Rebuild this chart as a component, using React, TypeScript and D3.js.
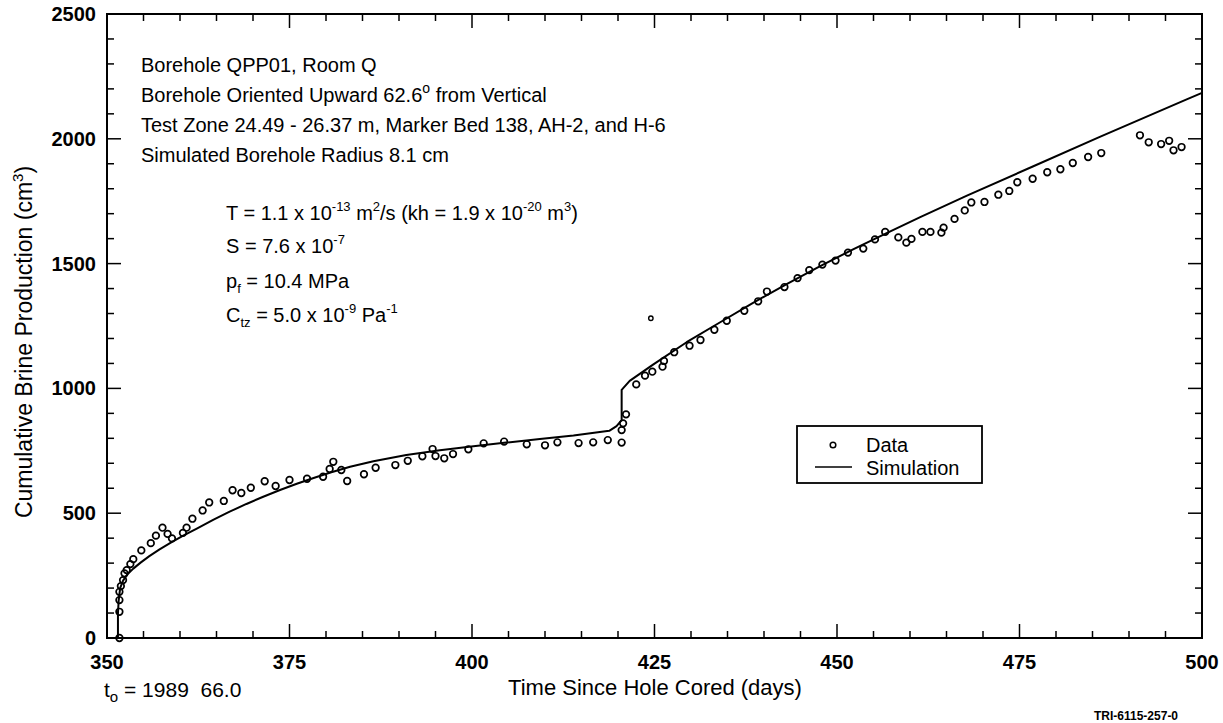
import React from 'react';
import * as d3 from 'd3';

// measured brine volumes (days since hole cored, cm^3)
const dataDays = [
  351.7, 351.7, 351.7, 351.7, 351.9, 352.2, 352.4, 352.7, 353.2, 353.6,
  354.7, 356.0, 356.7, 357.6, 358.3, 358.9, 360.4, 360.9, 361.7, 363.1,
  364.0, 366.0, 367.2, 368.4, 369.7, 371.6, 373.1, 375.0, 377.4, 379.6,
  380.5, 381.0, 382.1, 382.9, 385.2, 386.8, 389.5, 391.2, 393.2, 394.6,
  395.0, 396.2, 397.4, 399.5, 401.6, 404.4, 407.5, 410.0, 411.7, 414.6,
  416.6, 418.6, 420.5, 420.5, 420.7, 421.1, 422.5, 423.7, 424.7, 426.1,
  426.3, 427.7, 429.8, 431.3, 433.2, 434.9, 437.3, 439.2, 440.4, 442.8,
  444.6, 446.2, 448.0, 449.8, 451.5, 453.6, 455.2, 456.6, 458.4, 459.5,
  460.2, 461.7, 462.8, 464.3, 464.6, 466.1, 467.5, 468.4, 470.2, 472.1,
  473.6, 474.7, 476.8, 478.8, 480.6, 482.3, 484.4, 486.2, 491.5, 492.7,
  494.4, 495.5, 496.1, 497.2,
];
const dataVolume = [
  0, 105, 152, 185, 208, 232, 259, 272, 296, 316,
  351, 380, 410, 442, 417, 399, 421, 442, 478, 511,
  543, 549, 592, 581, 602, 628, 609, 633, 638, 646,
  677, 706, 673, 629, 656, 682, 693, 710, 728, 757,
  729, 720, 737, 756, 780, 787, 776, 772, 784, 781,
  784, 793, 783, 833, 860, 896, 1016, 1051, 1067, 1087,
  1110, 1145, 1171, 1194, 1235, 1271, 1311, 1349, 1388, 1406,
  1442, 1474, 1496, 1512, 1544, 1560, 1597, 1627, 1605, 1584,
  1599, 1627, 1627, 1624, 1644, 1679, 1713, 1745, 1747, 1776,
  1791, 1826, 1840, 1866, 1878, 1903, 1927, 1943, 2014, 1986,
  1979, 1992, 1954, 1967,
];

// odd reading drawn with a smaller marker
const flaggedDays = [424.5];
const flaggedVolume = [1281];

// simulated cumulative production
const simDays = [
  351.5, 351.5, 351.6, 351.8, 352.2, 352.8, 353.6, 354.6, 355.8, 357.2,
  358.8, 360.5, 362.3, 364.6, 366.8, 369.1, 371.4, 373.7, 376.0, 378.3,
  380.5, 383.3, 386.5, 391.0, 395.6, 400.2, 404.7, 409.3, 413.9, 418.8,
  419.8, 420.5, 420.5, 421.6, 424.8, 429.4, 434.0, 438.5, 443.1, 447.7,
  452.2, 456.8, 461.4, 467.8, 476.9, 486.0, 497.9, 500,
];
const simVolume = [
  0, 100, 150, 200, 230, 255, 278, 302, 328, 355,
  383, 411, 438, 474, 506, 537, 566, 593, 618, 641,
  662, 686, 708, 733, 752, 768, 783, 797, 811, 830,
  849, 873, 994, 1030, 1095, 1185, 1265, 1343, 1418, 1490,
  1557, 1622, 1686, 1772, 1890, 2008, 2158, 2184,
];

const xTicks = d3.range(350, 501, 5);
const yTicks = d3.range(0, 2501, 100);

const font = 'Liberation Sans, Arial, Helvetica, sans-serif';

export default function App() {
  const width = 1223;
  const height = 723;
  const left = 107, right = 1202, top = 14, bottom = 638;

  const x = d3.scaleLinear().domain([350, 500]).range([left, right]);
  const y = d3.scaleLinear().domain([0, 2500]).range([bottom, top]);

  const line = d3.line<number>()
    .x(i => x(simDays[i]))
    .y(i => y(simVolume[i]));
  const simPath = line(simDays.map((_, i) => i)) || '';

  const sup = (s: string, size = 13) => (
    <tspan dy={-9} fontSize={size}>{s}</tspan>
  );

  return (
    <svg width={width} height={height} style={{ position: 'absolute', left: 0, top: 0, background: '#fff' }}
      fontFamily={font}>
      <rect x={0} y={0} width={width} height={height} fill="#fff" />

      {/* ticks, pointing inward on all sides */}
      {xTicks.map(d => {
        const len = d % 25 === 0 ? 14 : 7;
        return (
          <g key={'xt' + d} stroke="#000" strokeWidth={1.5}>
            <line x1={x(d)} x2={x(d)} y1={bottom} y2={bottom - len} />
            <line x1={x(d)} x2={x(d)} y1={top} y2={top + len} />
          </g>
        );
      })}
      {yTicks.map(d => {
        const len = d % 500 === 0 ? 14 : 7;
        return (
          <g key={'yt' + d} stroke="#000" strokeWidth={1.5}>
            <line x1={left} x2={left + len} y1={y(d)} y2={y(d)} />
            <line x1={right} x2={right - len} y1={y(d)} y2={y(d)} />
          </g>
        );
      })}

      {/* tick labels */}
      {xTicks.filter(d => d % 25 === 0).map(d => (
        <text key={'xl' + d} x={x(d)} y={669} textAnchor="middle" fontSize={20} fontWeight="bold">{d}</text>
      ))}
      {yTicks.filter(d => d % 500 === 0).map(d => (
        <text key={'yl' + d} x={96} y={y(d) + 7} textAnchor="end" fontSize={20} fontWeight="bold">{d}</text>
      ))}

      {/* simulation */}
      <path d={simPath} fill="none" stroke="#000" strokeWidth={2} strokeLinejoin="round" />

      {/* data */}
      {dataDays.map((d, i) => (
        <circle key={'p' + i} cx={x(d)} cy={y(dataVolume[i])} r={3.3} fill="none" stroke="#000" strokeWidth={1.7} />
      ))}
      {flaggedDays.map((d, i) => (
        <circle key={'f' + i} cx={x(d)} cy={y(flaggedVolume[i])} r={2.2} fill="none" stroke="#000" strokeWidth={1.4} />
      ))}

      {/* frame */}
      <rect x={left} y={top} width={right - left} height={bottom - top} fill="none" stroke="#000" strokeWidth={2} />

      {/* annotation block */}
      <g fontSize={20} style={{ whiteSpace: 'pre' }}>
        <text x={141} y={72}>Borehole QPP01, Room Q</text>
        <text x={141} y={102}>
          <tspan>Borehole Oriented Upward 62.6</tspan>
          <tspan dy={-9} fontSize={14}>o</tspan>
          <tspan dy={9}> from Vertical</tspan>
        </text>
        <text x={141} y={132}>Test Zone 24.49 - 26.37 m, Marker Bed 138, AH-2, and H-6</text>
        <text x={141} y={162}>Simulated Borehole Radius 8.1 cm</text>

        <text x={226} y={220}>
          <tspan>T  = 1.1 x 10</tspan>
          {sup('-13')}
          <tspan dy={9}> m</tspan>
          {sup('2')}
          <tspan dy={9}>/s (kh = 1.9 x 10</tspan>
          {sup('-20')}
          <tspan dy={9}> m</tspan>
          {sup('3')}
          <tspan dy={9}>)</tspan>
        </text>
        <text x={226} y={253}>
          <tspan>S  = 7.6 x 10</tspan>
          {sup('-7')}
        </text>
        <text x={226} y={288}>
          <tspan>p</tspan>
          <tspan dy={5} fontSize={13}>f</tspan>
          <tspan dy={-5}>  = 10.4 MPa</tspan>
        </text>
        <text x={226} y={322}>
          <tspan>C</tspan>
          <tspan dy={5} fontSize={13}>tz</tspan>
          <tspan dy={-5}> = 5.0 x 10</tspan>
          {sup('-9')}
          <tspan dy={9}> Pa</tspan>
          {sup('-1')}
        </text>
      </g>

      {/* legend */}
      <rect x={797} y={426} width={185} height={57} fill="#fff" stroke="#000" strokeWidth={1.8} />
      <circle cx={833} cy={445} r={2.8} fill="none" stroke="#000" strokeWidth={1.5} />
      <text x={866} y={452} fontSize={20}>Data</text>
      <line x1={815} x2={852} y1={467} y2={467} stroke="#000" strokeWidth={1.5} />
      <text x={866} y={475} fontSize={20}>Simulation</text>

      {/* axis titles */}
      <text x={655} y={695} textAnchor="middle" fontSize={22}>Time Since Hole Cored (days)</text>
      <text transform="translate(32,342) rotate(-90)" textAnchor="middle" fontSize={23}>
        <tspan>Cumulative Brine Production (cm</tspan>
        <tspan dy={-9} fontSize={15}>3</tspan>
        <tspan dy={9}>)</tspan>
      </text>

      <text x={104} y={697} fontSize={21} style={{ whiteSpace: 'pre' }}>
        <tspan>t</tspan>
        <tspan dy={5} fontSize={15}>o</tspan>
        <tspan dy={-5}> = 1989  66.0</tspan>
      </text>
      <text x={1094} y={720} fontSize={12} fontWeight="bold">TRI-6115-257-0</text>
    </svg>
  );
}
